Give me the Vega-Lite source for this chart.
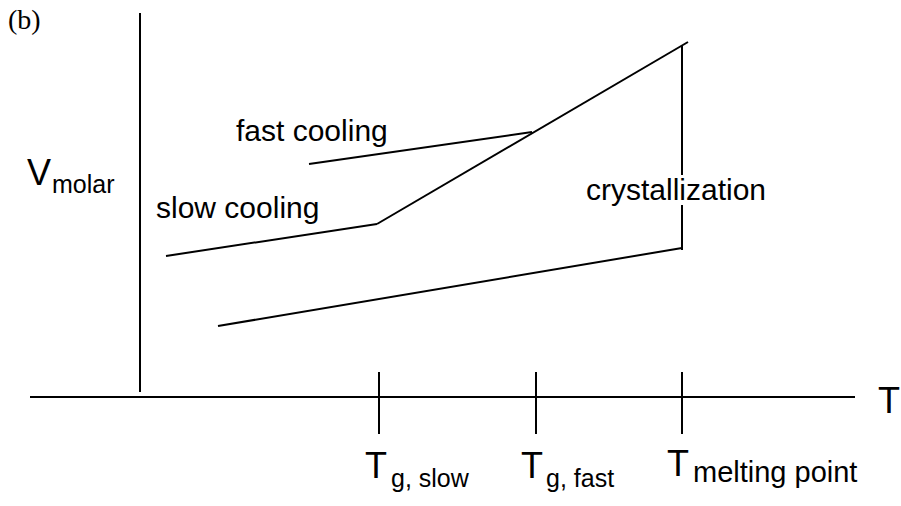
{
  "$schema": "https://vega.github.io/schema/vega-lite/v6.json",
  "width": 901,
  "height": 506,
  "autosize": {"type": "none"},
  "padding": 0,
  "background": "white",
  "config": {"view": {"stroke": null}},
  "datasets": {
    "segments": [
      {"part": "V axis", "x": 140, "y": 13, "x2": 140, "y2": 392},
      {"part": "T axis", "x": 30, "y": 397, "x2": 855, "y2": 397},
      {"part": "tick Tg slow", "x": 379, "y": 372, "x2": 379, "y2": 434},
      {"part": "tick Tg fast", "x": 536, "y": 372, "x2": 536, "y2": 434},
      {"part": "tick Tm", "x": 682, "y": 372, "x2": 682, "y2": 434},
      {"part": "slow glass", "x": 166, "y": 256, "x2": 377, "y2": 224},
      {"part": "liquid", "x": 377, "y": 224, "x2": 688, "y2": 42},
      {"part": "fast glass", "x": 309, "y": 164, "x2": 532, "y2": 132},
      {"part": "crystallization upper", "x": 682, "y": 45, "x2": 682, "y2": 175},
      {"part": "crystallization lower", "x": 682, "y": 205, "x2": 682, "y2": 250},
      {"part": "crystal", "x": 218, "y": 326, "x2": 682, "y2": 248}
    ],
    "bigText": [
      {"label": "V", "x": 27, "y": 185},
      {"label": "T", "x": 365, "y": 478},
      {"label": "T", "x": 521, "y": 478},
      {"label": "T", "x": 667, "y": 476},
      {"label": "T", "x": 878, "y": 413}
    ],
    "subText": [
      {"label": "molar", "x": 52, "y": 193},
      {"label": "g, slow", "x": 391, "y": 487},
      {"label": "g, fast", "x": 546, "y": 487}
    ],
    "meltText": [
      {"label": "melting point", "x": 693, "y": 482}
    ],
    "midText": [
      {"label": "fast cooling", "x": 236, "y": 141},
      {"label": "slow cooling", "x": 156, "y": 218},
      {"label": "crystallization", "x": 586, "y": 200}
    ],
    "serifText": [
      {"label": "(b)", "x": 8, "y": 29}
    ]
  },
  "layer": [
    {
      "data": {"name": "segments"},
      "mark": {"type": "rule", "color": "black", "strokeWidth": 2},
      "encoding": {
        "x": {"field": "x", "type": "quantitative", "scale": {"domain": [0, 901], "nice": false, "zero": false}, "axis": null},
        "y": {"field": "y", "type": "quantitative", "scale": {"domain": [0, 506], "nice": false, "zero": false, "reverse": true}, "axis": null},
        "x2": {"field": "x2"},
        "y2": {"field": "y2"}
      }
    },
    {
      "data": {"name": "bigText"},
      "mark": {"type": "text", "font": "Liberation Sans", "fontSize": 36, "align": "left", "baseline": "alphabetic", "color": "black"},
      "encoding": {
        "x": {"field": "x", "type": "quantitative", "scale": {"domain": [0, 901], "nice": false, "zero": false}, "axis": null},
        "y": {"field": "y", "type": "quantitative", "scale": {"domain": [0, 506], "nice": false, "zero": false, "reverse": true}, "axis": null},
        "text": {"field": "label"}
      }
    },
    {
      "data": {"name": "subText"},
      "mark": {"type": "text", "font": "Liberation Sans", "fontSize": 25, "align": "left", "baseline": "alphabetic", "color": "black"},
      "encoding": {
        "x": {"field": "x", "type": "quantitative", "scale": {"domain": [0, 901], "nice": false, "zero": false}, "axis": null},
        "y": {"field": "y", "type": "quantitative", "scale": {"domain": [0, 506], "nice": false, "zero": false, "reverse": true}, "axis": null},
        "text": {"field": "label"}
      }
    },
    {
      "data": {"name": "meltText"},
      "mark": {"type": "text", "font": "Liberation Sans", "fontSize": 29, "align": "left", "baseline": "alphabetic", "color": "black"},
      "encoding": {
        "x": {"field": "x", "type": "quantitative", "scale": {"domain": [0, 901], "nice": false, "zero": false}, "axis": null},
        "y": {"field": "y", "type": "quantitative", "scale": {"domain": [0, 506], "nice": false, "zero": false, "reverse": true}, "axis": null},
        "text": {"field": "label"}
      }
    },
    {
      "data": {"name": "midText"},
      "mark": {"type": "text", "font": "Liberation Sans", "fontSize": 30, "align": "left", "baseline": "alphabetic", "color": "black"},
      "encoding": {
        "x": {"field": "x", "type": "quantitative", "scale": {"domain": [0, 901], "nice": false, "zero": false}, "axis": null},
        "y": {"field": "y", "type": "quantitative", "scale": {"domain": [0, 506], "nice": false, "zero": false, "reverse": true}, "axis": null},
        "text": {"field": "label"}
      }
    },
    {
      "data": {"name": "serifText"},
      "mark": {"type": "text", "font": "Liberation Serif", "fontSize": 28, "align": "left", "baseline": "alphabetic", "color": "black"},
      "encoding": {
        "x": {"field": "x", "type": "quantitative", "scale": {"domain": [0, 901], "nice": false, "zero": false}, "axis": null},
        "y": {"field": "y", "type": "quantitative", "scale": {"domain": [0, 506], "nice": false, "zero": false, "reverse": true}, "axis": null},
        "text": {"field": "label"}
      }
    }
  ]
}
